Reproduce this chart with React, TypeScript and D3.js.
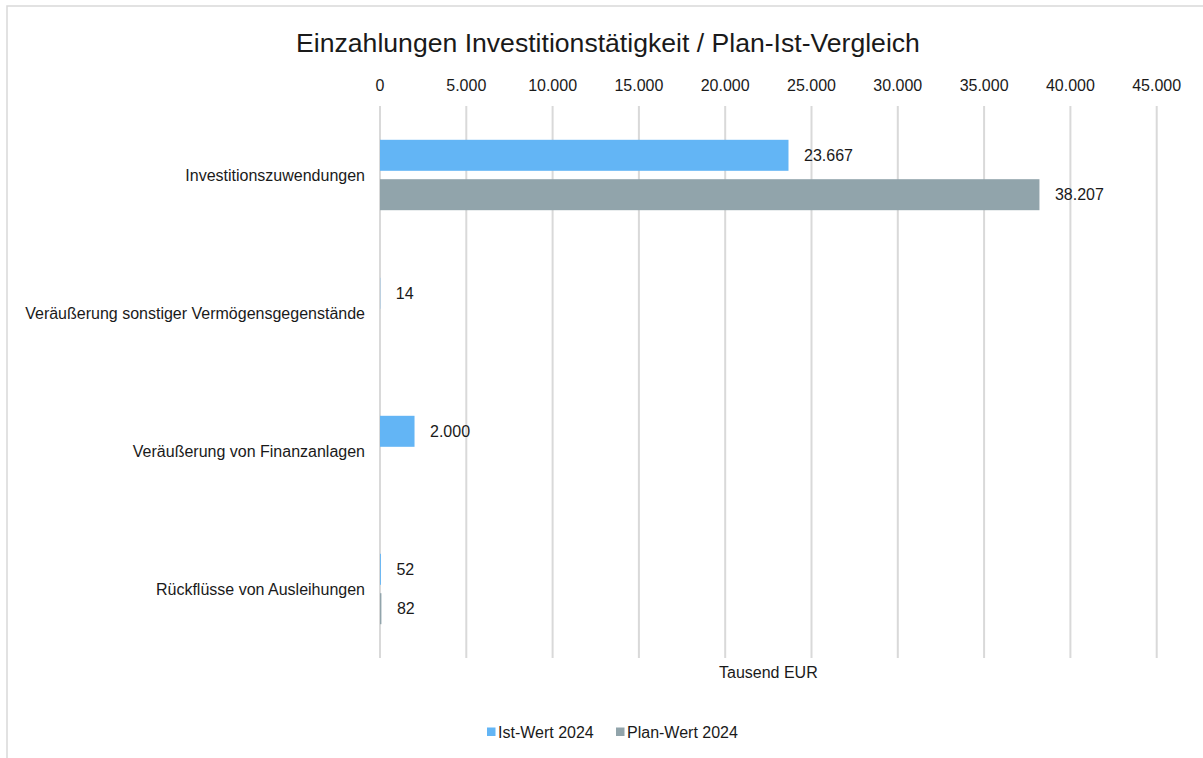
import React from "react";
import * as d3 from "d3";

const categories = [
  "Investitionszuwendungen",
  "Veräußerung sonstiger Vermögensgegenstände",
  "Veräußerung von Finanzanlagen",
  "Rückflüsse von Ausleihungen",
];
const seriesNames = ["Ist-Wert 2024", "Plan-Wert 2024"];
const istValues: (number | null)[] = [23667, 14, 2000, 52];
const planValues: (number | null)[] = [38207, null, null, 82];
const tickValues = [0, 5000, 10000, 15000, 20000, 25000, 30000, 35000, 40000, 45000];
const colors = ["#63b5f5", "#91a4ab"];

const W = 1203;
const H = 758;
const left = 380;
const right = 1156.7;
const top = 106;
const bottom = 658;

const fmt = (v: number) =>
  Math.round(v)
    .toString()
    .replace(/\B(?=(\d{3})+(?!\d))/g, ".");

export default function App() {
  const x = d3.scaleLinear().domain([0, 45000]).range([left, right]);
  const y = d3.scaleBand<string>().domain(categories).range([top, bottom]).paddingInner(0).paddingOuter(0);
  const sub = d3.scaleBand<string>().domain(seriesNames).range([-35.2, 35.2]).paddingInner(0.213).paddingOuter(0);
  const series = [istValues, planValues];
  const font = "'Liberation Sans', Arial, sans-serif";
  return (
    <svg
      width={W}
      height={H}
      style={{ position: "absolute", left: 0, top: 0, fontFamily: font }}
    >
      <rect x={0} y={0} width={W} height={H} fill="#fff" />
      <rect x={7} y={6} width={W + 20} height={H + 20} fill="#fff" stroke="#d9d9d9" strokeWidth={1.5} />
      <text x={608} y={52} textAnchor="middle" fontSize={26.6} fill="#1a1a1a">
        Einzahlungen Investitionstätigkeit / Plan-Ist-Vergleich
      </text>
      {tickValues.map((t) => (
        <g key={t}>
          <line x1={x(t)} x2={x(t)} y1={top} y2={bottom} stroke="#d9d9d9" strokeWidth={2} />
          <text x={x(t)} y={91} textAnchor="middle" fontSize={16} fill="#1a1a1a">
            {fmt(t)}
          </text>
        </g>
      ))}
      {categories.map((c) => (
        <text
          key={c}
          x={365}
          y={(y(c) as number) + y.bandwidth() / 2 + 5.5}
          textAnchor="end"
          fontSize={16}
          fill="#1a1a1a"
        >
          {c}
        </text>
      ))}
      {series.map((vals, si) =>
        vals.map((v, ci) => {
          if (v === null) return null;
          const cy = (y(categories[ci]) as number) + y.bandwidth() / 2;
          const by = cy + (sub(seriesNames[si]) as number);
          const bh = sub.bandwidth();
          return (
            <g key={si + "-" + ci}>
              <rect x={x(0)} y={by} width={x(v) - x(0)} height={bh} fill={colors[si]} />
              <text x={x(v) + 15.5} y={by + bh / 2 + 5.5} fontSize={16} fill="#1a1a1a">
                {fmt(v)}
              </text>
            </g>
          );
        })
      )}
      <text x={(left + right) / 2} y={678} textAnchor="middle" fontSize={16} fill="#1a1a1a">
        Tausend EUR
      </text>
      {seriesNames.map((s, i) => {
        const lx = i === 0 ? 487 : 616;
        return (
          <g key={s}>
            <rect x={lx} y={727.5} width={8.5} height={8.5} fill={colors[i]} />
            <text x={lx + 11} y={737.5} fontSize={16} fill="#1a1a1a">
              {s}
            </text>
          </g>
        );
      })}
    </svg>
  );
}
